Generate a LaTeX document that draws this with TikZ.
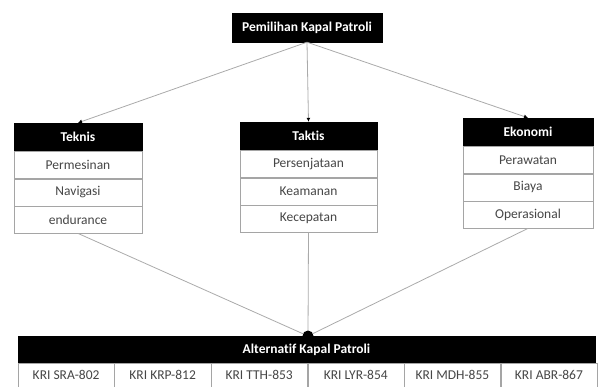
\documentclass[tikz,border=0pt]{standalone}
\usepackage{fontspec}
\setmainfont{Carlito}[Ligatures=NoCommon]
\usetikzlibrary{arrows.meta, positioning}
\definecolor{cellborder}{RGB}{165,165,165}
\definecolor{celltext}{RGB}{70,70,70}
\definecolor{linkcolor}{RGB}{170,170,170}
\tikzset{
    head/.style={rectangle, draw=black, fill=black, text=white, inner sep=0pt,
        minimum height=28pt, font=\fontsize{13.5}{15}\selectfont\bfseries},
    cell/.style={rectangle, draw=cellborder, fill=white, text=celltext, inner sep=0pt,
        minimum height=27pt, font=\fontsize{13.5}{15}\selectfont},
    link/.style={draw=linkcolor, thick},
    arrow/.style={link, -{Latex[length=4pt, width=4pt, color=black]}}
}

\begin{document}
\begin{tikzpicture}[x=1pt, y=-1pt]

    \useasboundingbox (0,0) rectangle (598,387);

    \node[head, minimum width=150pt, minimum height=29pt] (goal) at (307,27.5) {Pemilihan Kapal Patroli};

    \node[head, minimum width=128pt] (teknis) at (78,137) {Teknis};
    \node[cell, minimum width=128pt, below=0pt of teknis] (permesinan) {Permesinan};
    \node[cell, minimum width=128pt, below=0pt of permesinan] (navigasi) {Navigasi};
    \node[cell, minimum width=128pt, below=0pt of navigasi] (endurance) {endurance};

    \node[head, minimum width=137pt] (taktis) at (308.5,136) {Taktis};
    \node[cell, minimum width=137pt, below=0pt of taktis] (persenjataan) {Persenjataan};
    \node[cell, minimum width=137pt, below=0pt of persenjataan] (keamanan) {Keamanan};
    \node[cell, minimum width=137pt, below=0pt of keamanan] (kecepatan) {Kecepatan};

    \node[head, minimum width=130pt] (ekonomi) at (528,132) {Ekonomi};
    \node[cell, minimum width=130pt, below=0pt of ekonomi] (perawatan) {Perawatan};
    \node[cell, minimum width=130pt, below=0pt of perawatan] (biaya) {Biaya};
    \node[cell, minimum width=130pt, below=0pt of biaya] (operasional) {Operasional};

    \node[circle, fill=black, inner sep=0pt, minimum size=11pt] (hub) at (308,336) {};

    \node[head, minimum width=577pt, minimum height=27pt] (alt) at (306.5,349.5) {Alternatif Kapal Patroli};
    \node[cell, minimum width=96.17pt, minimum height=24pt, anchor=north west] (kri1) at (alt.south west) {KRI SRA-802};
    \node[cell, minimum width=96.17pt, minimum height=24pt, right=0pt of kri1] (kri2) {KRI KRP-812};
    \node[cell, minimum width=96.17pt, minimum height=24pt, right=0pt of kri2] (kri3) {KRI TTH-853};
    \node[cell, minimum width=96.17pt, minimum height=24pt, right=0pt of kri3] (kri4) {KRI LYR-854};
    \node[cell, minimum width=96.17pt, minimum height=24pt, right=0pt of kri4] (kri5) {KRI MDH-855};
    \node[cell, minimum width=96.17pt, minimum height=24pt, right=0pt of kri5] (kri6) {KRI ABR-867};

    \draw[arrow] (goal.south) -- (teknis.north);
    \draw[arrow] (goal.south) -- (taktis.north);
    \draw[arrow] (goal.south) -- (ekonomi.north);
    \draw[link] (endurance.south) -- (hub);
    \draw[link] (kecepatan.south) -- (hub);
    \draw[link] (operasional.south) -- (hub);

\end{tikzpicture}
\end{document}
